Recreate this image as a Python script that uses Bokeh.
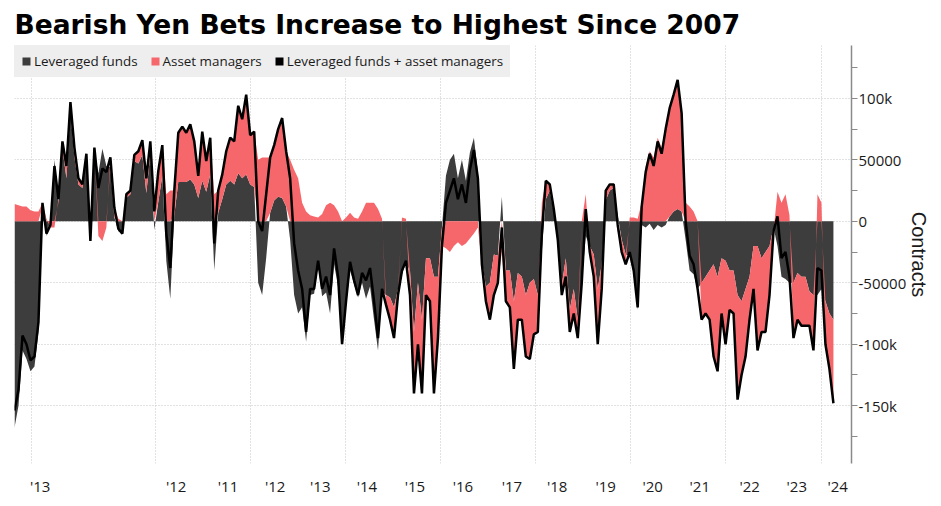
import numpy as np
from bokeh.plotting import figure
from bokeh.models import Range1d, FixedTicker, Legend, LegendItem
from bokeh.embed import file_html
from bokeh.resources import INLINE

title_text = "Bearish Yen Bets Increase to Highest Since 2007"
series_names = ["Leveraged funds", "Asset managers", "Leveraged funds + asset managers"]
y_axis_title = "Contracts"

# weekly-ish sampling between first and last observation (fractional years)
start_year = 2007.04
end_year = 2024.26

# thousands of contracts
leveraged_funds_k = [
    -168, -150, -105, -112, -122, -118, -90, 12, -12, 2, 50, 15, 59, 35, 89, 52, 30, 27, 50, -16,
    57, 39, 59, 45, 44, 3, -8, -10, 19, 22, 49, 47, 54, 23, 55,
    -7, 16, 37, -32, -63, 5, 32, 32, 32, 34, 30, 19, 33, 24, 38, -40, 7, 18, 30, 33,
    30, 39, 35, 38, 30, 28, -50, -60, -30, 7, 17, 20, 19, 12, -15, -60,
    -75, -70, -98, -60, -59, -35, -61, -58, -75, -35, -53, -100, -68, -40, -51, -62, -50, -63, -53, -80,
    -105, -57, -60, -62, -70, -55, -43, -34, -40, -90, -50, -80, -30, -30,
    -45, -45, -5, 37, 50, 55, 35, 50, 33, 56, 68, 40, -32, -53, -50, -27, -28, 20, -40, -40,
    -65, -42, -45, -60, -50, -47, -60, -25, 18, 25, 7, -13, -52, -30, -72, -55,
    -80, -50, -12, -20, -27, -55, -35, 17, 25, 27, 5, -15, -27, -28, -43, -72, -3, -5, -2, -7,
    -3, -5, -3, 4, 8, 10, 8, -15, -40, -43, -55, -50, -45, -40,
    -35, -45, -30, -32, -40, -40, -60, -65, -55, -45, -20, -20, -30, -25, -20, -5, -20, -45, -47, -50,
    -50, -42, -45, -45, -57, -60, -60, -55, -65, -75, -80,
]
asset_managers_k = [
    14, 13, 12, 12, 9, 8, 8, 3, 2, -5, -5, 3, 6, 10, 8, 8, 5, 3, 5, 0,
    3, -12, -16, -5, 8, 8, 2, 0, 3, 3, 5, 10, 12, 12, 10,
    15, 25, 25, 22, 25, 20, 40, 45, 40, 45, 35, 18, 40, 25, 30, 22, 18, 20, 27, 35,
    35, 55, 48, 65, 40, 45, 50, 52, 52, 45, 45, 55, 65, 45, 50, 42,
    35, 15, 8, 5, 4, 3, 6, 13, 15, 13, 8, 0, 3, 7, 3, 2, 8, 15, 15, 15,
    10, 2, -8, -18, -25, -5, 3, 2, -20, -50, -50, -60, -30, -35,
    -95, -50, -15, -22, -25, -20, -17, -20, -18, -14, -10, -5, -3, -12, -30, -33, -22, -25, -25, -30,
    -55, -38, -35, -50, -62, -45, -30, 15, 15, 5, 3, -2, -8, -15, -18, -20,
    -15, 0, 22, -5, -18, -45, -20, 8, 5, 3, -8, -10, -8, 3, 3, 2, 15, 45, 57, 52,
    68, 60, 78, 88, 95, 105, 80, 15, 12, 8, 0, -30, -30, -40,
    -75, -77, -45, -68, -32, -35, -85, -60, -55, -35, -35, -85, -60, -65, -40, -3, 24, 15, 22, 5,
    -45, -38, -40, -40, -28, -45, 22, 15, -35, -45, -68,
]

x_label_years = [2007.58, 2010.44, 2011.53, 2012.52, 2013.47, 2014.45, 2015.46, 2016.47,
                 2017.50, 2018.45, 2019.47, 2020.46, 2021.45, 2022.50, 2023.49, 2024.35]
x_labels = ["'13", "'12", "'11", "'12", "'13", "'14", "'15", "'16",
            "'17", "'18", "'19", "'20", "'21", "'22", "'23", "'24"]
grid_years = [2007.4, 2010, 2012, 2014, 2016, 2018, 2020, 2022, 2024]
y_ticks = [-150000, -100000, -50000, 0, 50000, 100000]
y_tick_labels = ["-150k", "-100k", "-50000", "0", "50000", "100k"]
y_minor_ticks = [-175000, -125000, -75000, -25000, 25000, 75000, 125000]

assert len(leveraged_funds_k) == len(asset_managers_k)

lev = np.array(leveraged_funds_k, dtype=float) * 1000
am = np.array(asset_managers_k, dtype=float) * 1000
total = lev + am
x = np.linspace(start_year, end_year, len(lev))
same_side = np.sign(am) == np.sign(lev)
am_base = np.where(same_side, lev, 0.0)
am_top = am_base + am

DARK = "#3d3d3d"
PINK = "#f6676c"
GRID = "#c4c4c4"
TEXT = "#1a1a1a"
LEGEND_BG = "#eeeeee"

p = figure(width=933, height=498,
           x_range=Range1d(2007.04, 2024.64), y_range=Range1d(-197000, 143000),
           output_backend="svg", toolbar_location=None,
           x_axis_location="below", y_axis_location="right",
           min_border_left=14, min_border_right=81, min_border_top=0, min_border_bottom=0)
p.outline_line_color = None
p.background_fill_color = "white"
p.border_fill_color = "white"

# title
p.title.text = title_text
p.title.text_font = "DejaVu Sans"
p.title.text_font_style = "bold"
p.title.text_font_size = "26.5px"
p.title.text_color = "black"
p.title.standoff = 12
p.title.offset = 0

# glyphs
r_dark = p.varea(x=x, y1=0, y2=lev, fill_color=DARK)
r_pink = p.varea(x=x, y1=am_base, y2=am_top, fill_color=PINK)
r_line = p.line(x=x, y=total, line_color="black", line_width=2.5)
# legend swatch only (drawn outside the visible x range)
r_leg = p.varea(x=[2000.0, 2001.0], y1=[0, 0], y2=[1, 1], fill_color="black")

# y axis (right)
ya = p.yaxis[0]
ya.ticker = FixedTicker(ticks=y_ticks, minor_ticks=y_minor_ticks)
ya.major_label_overrides = dict(zip(y_ticks, y_tick_labels))
ya.axis_line_color = "#8a8a8a"
ya.axis_line_width = 1.5
ya.major_tick_line_color = "#8a8a8a"
ya.minor_tick_line_color = "#8a8a8a"
ya.major_tick_out = 6
ya.major_tick_in = 0
ya.minor_tick_out = 6
ya.minor_tick_in = 0
ya.major_label_standoff = 1
ya.major_label_text_font = "Open Sans"
ya.major_label_text_font_size = "15px"
ya.major_label_text_color = TEXT
ya.axis_label = y_axis_title
ya.axis_label_text_font = "Liberation Sans"
ya.axis_label_text_font_style = "normal"
ya.axis_label_text_font_size = "20px"
ya.axis_label_text_color = TEXT
ya.axis_label_standoff = -1

# x axis
xa = p.xaxis[0]
xa.ticker = FixedTicker(ticks=x_label_years, minor_ticks=[])
xa.major_label_overrides = dict(zip(x_label_years, x_labels))
xa.axis_line_color = None
xa.major_tick_line_color = None
xa.minor_tick_line_color = None
xa.major_label_standoff = 6
xa.major_label_text_font = "Open Sans"
xa.major_label_text_font_size = "15px"
xa.major_label_text_color = TEXT

# grids
p.xgrid.ticker = FixedTicker(ticks=grid_years, minor_ticks=[])
p.ygrid.ticker = FixedTicker(ticks=y_ticks, minor_ticks=[])
for g in (p.xgrid, p.ygrid):
    g.grid_line_color = GRID
    g.grid_line_dash = "1 2"
    g.grid_line_width = 1

# legend (border in the background colour so that padding is applied)
legend = Legend(items=[LegendItem(label=series_names[0], renderers=[r_dark]),
                       LegendItem(label=series_names[1], renderers=[r_pink]),
                       LegendItem(label=series_names[2], renderers=[r_leg])],
                location="top_left", orientation="horizontal",
                background_fill_color=LEGEND_BG, background_fill_alpha=1.0,
                border_line_color=LEGEND_BG, border_line_width=1,
                glyph_width=10, glyph_height=10,
                label_standoff=3, spacing=12, padding=6, margin=0,
                label_text_font="Open Sans", label_text_font_size="13.4px",
                label_text_color=TEXT, label_height=14)
p.add_layout(legend)

open("out.html", "w").write(file_html(p, INLINE))
